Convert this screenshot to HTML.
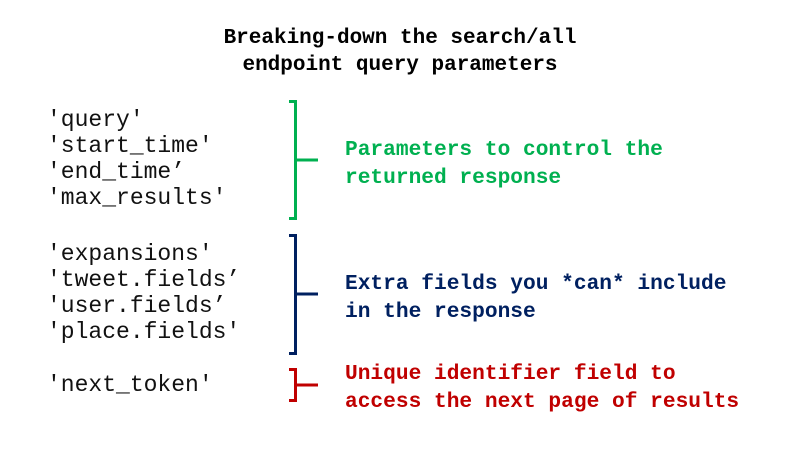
<!DOCTYPE html>
<html><head><style>
body{margin:0;width:800px;height:450px;background:#fff;position:relative;overflow:hidden;font-family:"Liberation Mono",monospace}
.t{position:absolute;white-space:pre;line-height:26px}
.title{left:0;width:800px;text-align:center;top:25px;font-weight:bold;font-size:21px;line-height:27px;color:#000}
.l{left:47px;font-size:23px;color:#111}
.r{left:345px;font-size:21.2px;font-weight:bold;line-height:28px}
</style></head><body>
<div class="t title">Breaking-down the search/all
endpoint query parameters</div>
<div class="t l" style="top:107px">'query'
'start_time'
'end_time’
'max_results'</div>
<div class="t l" style="top:241px">'expansions'
'tweet.fields’
'user.fields’
'place.fields'</div>
<div class="t l" style="top:372px">'next_token'</div>
<div class="t r" style="top:136px;color:#00b050">Parameters to control the
returned response</div>
<div class="t r" style="top:270px;color:#002060">Extra fields you *can* include
in the response</div>
<div class="t r" style="top:360px;color:#c00000">Unique identifier field to
access the next page of results</div>
<svg width="800" height="450" style="position:absolute;left:0;top:0" fill="none" stroke-width="3">
<path d="M289 101.5H295.5V218.5H289M295.5 160H318" stroke="#00b050"/>
<path d="M289 235.5H295.5V353.5H289M295.5 294H318" stroke="#002060"/>
<path d="M289 369.5H295.5V400.5H289M295.5 385H318" stroke="#c00000"/>
</svg>
</body></html>
